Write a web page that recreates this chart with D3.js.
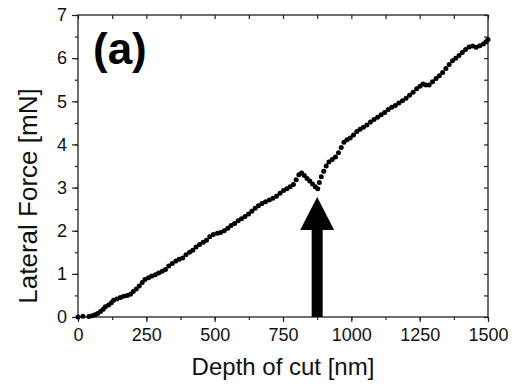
<!DOCTYPE html>
<html>
<head>
<meta charset="utf-8">
<script src="https://cdn.jsdelivr.net/npm/d3@7"></script>
<style>
  body { margin: 0; background: #fff; }
  svg { display: block; font-family: "Liberation Sans", Arial, sans-serif; }
</style>
</head>
<body>
<div id="chart"></div>
<script>
// depth of cut [nm] and lateral force [mN]
let depth = [0, 18, 40, 52, 62, 72, 82, 92, 100, 112, 122, 130, 142, 155, 167, 180, 192, 202, 213, 224,
  235, 245, 258, 270, 283, 295, 308, 320, 332, 345, 358, 370, 383, 395, 408, 420, 432, 445, 458, 470,
  482, 495, 510, 522, 535, 548, 560, 573, 586, 598, 611, 624, 636, 648, 660, 673, 686, 700, 713, 726,
  739, 752, 764, 776, 788, 798, 808, 818, 828, 838, 848, 858, 868, 877, 883, 890, 899, 908, 918, 930,
  942, 953, 963, 973, 984, 996, 1008, 1020, 1032, 1044, 1057, 1070, 1083, 1096, 1109, 1122, 1135, 1148, 1161, 1174,
  1187, 1200, 1213, 1226, 1239, 1251, 1262, 1273, 1285, 1297, 1310, 1322, 1334, 1346, 1358, 1370, 1382, 1394, 1406, 1418,
  1431, 1444, 1457, 1470, 1483, 1493, 1500];

let force = [0.00, 0.02, 0.01, 0.03, 0.05, 0.08, 0.13, 0.18, 0.24, 0.28, 0.33, 0.39, 0.42, 0.45, 0.48, 0.50, 0.53, 0.59, 0.65, 0.72,
  0.80, 0.87, 0.91, 0.95, 0.98, 1.02, 1.06, 1.10, 1.18, 1.24, 1.30, 1.34, 1.37, 1.44, 1.50, 1.55, 1.62, 1.68, 1.73, 1.78,
  1.86, 1.91, 1.94, 1.96, 2.00, 2.06, 2.12, 2.17, 2.23, 2.28, 2.33, 2.39, 2.45, 2.52, 2.58, 2.63, 2.67, 2.71, 2.75, 2.80,
  2.87, 2.93, 2.97, 3.02, 3.07, 3.18, 3.30, 3.34, 3.28, 3.21, 3.15, 3.08, 3.02, 2.97, 3.12, 3.25, 3.38, 3.50, 3.59, 3.65,
  3.71, 3.81, 3.93, 4.05, 4.11, 4.15, 4.22, 4.30, 4.35, 4.40, 4.45, 4.52, 4.58, 4.63, 4.69, 4.74, 4.81, 4.86, 4.90, 4.96,
  5.01, 5.07, 5.14, 5.21, 5.29, 5.35, 5.40, 5.38, 5.38, 5.45, 5.53, 5.59, 5.67, 5.76, 5.85, 5.94, 6.00, 6.06, 6.13, 6.20,
  6.26, 6.28, 6.25, 6.29, 6.33, 6.38, 6.43];

let xTicks = [0, 250, 500, 750, 1000, 1250, 1500];
let yTicks = [0, 1, 2, 3, 4, 5, 6, 7];
let xMinor = d3.range(0, 1501, 125);
let yMinor = d3.range(0, 7.01, 0.5);

// arrow marks the drop at ~875 nm
let arrowX = 875;
let arrowTip = 2.78;

let width = 518;
let height = 387;
let margin = {top: 15, right: 30, bottom: 70, left: 78};

let svg = d3.select("#chart")
    .append("svg")
    .attr("width", width)
    .attr("height", height);

svg.append("rect").attr("width", width).attr("height", height).attr("fill", "#fff");

let x = d3.scaleLinear()
    .domain([0, 1500])
    .range([margin.left, width - margin.right]);

let y = d3.scaleLinear()
    .domain([0, 7])
    .range([height - margin.bottom, margin.top]);

let axisColor = "#222";
let fmt = d3.format("d");

function styleAxis(g) {
    g.select(".domain").remove();
    g.selectAll(".tick line").attr("stroke", axisColor).attr("stroke-width", 1.2);
    g.selectAll(".tick text").attr("fill", "#111").attr("font-size", "18px")
        .attr("font-family", "'Liberation Sans', Arial, sans-serif");
}

// bottom axis: ticks outward
svg.append("g")
    .attr("transform", `translate(0, ${y(0)})`)
    .call(d3.axisBottom(x).tickValues(xMinor).tickSize(3).tickFormat(""))
    .call(styleAxis);
svg.append("g")
    .attr("transform", `translate(0, ${y(0)})`)
    .call(d3.axisBottom(x).tickValues(xTicks).tickSize(5).tickPadding(6).tickFormat(fmt))
    .call(styleAxis);

// left axis: ticks outward
svg.append("g")
    .attr("transform", `translate(${x(0)}, 0)`)
    .call(d3.axisLeft(y).tickValues(yMinor).tickSize(3).tickFormat(""))
    .call(styleAxis);
svg.append("g")
    .attr("transform", `translate(${x(0)}, 0)`)
    .call(d3.axisLeft(y).tickValues(yTicks).tickSize(6).tickPadding(5).tickFormat(fmt))
    .call(styleAxis);

// top and right: ticks inward, no labels
svg.append("g")
    .attr("transform", `translate(0, ${y(7)})`)
    .call(d3.axisBottom(x).tickValues(xMinor).tickSize(4).tickFormat(""))
    .call(styleAxis);
svg.append("g")
    .attr("transform", `translate(${x(1500)}, 0)`)
    .call(d3.axisLeft(y).tickValues(yMinor).tickSize(4).tickFormat(""))
    .call(styleAxis);

// frame
svg.append("rect")
    .attr("x", x(0))
    .attr("y", y(7))
    .attr("width", x(1500) - x(0))
    .attr("height", y(0) - y(7))
    .attr("fill", "none")
    .attr("stroke", axisColor)
    .attr("stroke-width", 1.3);

// data points
svg.append("g")
    .attr("fill", "#000")
    .selectAll("circle")
    .data(depth.map((d, i) => [d, force[i]]))
    .join("circle")
        .attr("cx", d => x(d[0]))
        .attr("cy", d => y(d[1]))
        .attr("r", 2.5);

// arrow
let ax = x(arrowX);
let tipY = y(arrowTip);
let baseY = y(0);
let headLen = 33, headHalf = 17, shaftHalf = 5.5;
svg.append("path")
    .attr("d", `M${ax - shaftHalf},${baseY} L${ax - shaftHalf},${tipY + headLen} L${ax - headHalf},${tipY + headLen}
        L${ax},${tipY} L${ax + headHalf},${tipY + headLen} L${ax + shaftHalf},${tipY + headLen} L${ax + shaftHalf},${baseY} Z`)
    .attr("fill", "#000");

// panel label
svg.append("text")
    .attr("x", 93)
    .attr("y", 64)
    .attr("font-size", "44px")
    .attr("font-weight", "bold")
    .attr("fill", "#000")
    .text("(a)");

// axis titles
svg.append("text")
    .attr("x", (x(0) + x(1500)) / 2)
    .attr("y", 375)
    .attr("text-anchor", "middle")
    .attr("font-size", "24px")
    .attr("fill", "#111")
    .text("Depth of cut [nm]");

svg.append("text")
    .attr("transform", "rotate(-90)")
    .attr("x", -196)
    .attr("y", 37)
    .attr("text-anchor", "middle")
    .attr("font-size", "26px")
    .attr("fill", "#111")
    .text("Lateral Force [mN]");
</script>
</body>
</html>
